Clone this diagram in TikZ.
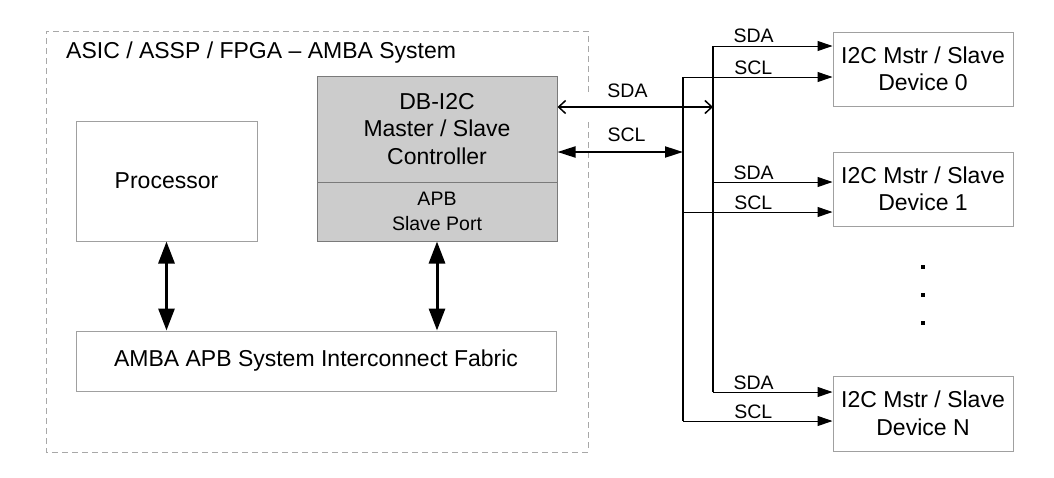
\documentclass[tikz,border=0pt]{standalone}
\usepackage{fontspec}
\setmainfont{Liberation Sans}
\usetikzlibrary{arrows.meta,calc}
\definecolor{boxline}{HTML}{A0A0A0}
\definecolor{darkline}{HTML}{7A7A7A}
\definecolor{grayfill}{HTML}{CCCCCC}
\definecolor{dashcol}{HTML}{A8A8A8}
\begin{document}
\begin{tikzpicture}[x=1pt,y=-1pt,
  mainfont/.style={font=\fontsize{23}{27.5}\selectfont},
  smallfont/.style={font=\fontsize{19.5}{25}\selectfont},
  box/.style={draw=boxline, line width=1pt, fill=white, inner sep=0pt, align=center},
  graybox/.style={draw=darkline, line width=1pt, fill=grayfill, inner sep=0pt, align=center},
  sysborder/.style={draw=dashcol, line width=0.9pt, dash pattern=on 6pt off 4pt},
  bigarrow/.style={line width=3pt, {Triangle[length=22pt,width=16pt]}-{Triangle[length=22pt,width=16pt]}},
  sdaarrow/.style={line width=1.5pt, {Straight Barb[length=7pt,width=13pt]}-{Straight Barb[length=7pt,width=13pt]}},
  sclarrow/.style={line width=2pt, {Triangle[length=18pt,width=11pt]}-{Triangle[length=18pt,width=11pt]}},
  bus/.style={line width=1.5pt},
  devarrow/.style={line width=1pt, -{Triangle[length=15pt,width=10pt]}},
  siglabel/.style={smallfont, above, inner sep=2pt},
  dotmark/.style={fill=black, inner sep=0pt, minimum size=3.5pt, rectangle}
]
\useasboundingbox (0,0) rectangle (1054,477);

% system boundary
\draw[sysborder] (588,92) -- (588,31) -- (46,31) -- (46,452) -- (588,452) -- (588,120);
\node[mainfont, anchor=west, inner sep=0pt] (title) at (66,53) {ASIC / ASSP / FPGA – AMBA System};

% blocks
\node[box, mainfont, minimum width=181pt, minimum height=120pt] (proc) at (166.5,181) {Processor};
\node[graybox, mainfont, minimum width=240pt, minimum height=106pt] (dbctl) at (437,129) {DB-I2C\\Master / Slave\\Controller};
\node[graybox, smallfont, minimum width=240pt, minimum height=59pt] (dbport) at (437,211.5) {APB\\Slave Port};
\node[box, mainfont, minimum width=480pt, minimum height=60pt] (amba) at (316,361) {AMBA APB System Interconnect Fabric};

\node[box, mainfont, minimum width=180pt, minimum height=74pt] (dev0) at (923,69) {I2C Mstr / Slave\\Device 0};
\node[box, mainfont, minimum width=180pt, minimum height=74pt] (dev1) at (923,189) {I2C Mstr / Slave\\Device 1};
\node[box, mainfont, minimum width=180pt, minimum height=75pt] (devN) at (923,413.5) {I2C Mstr / Slave\\Device N};

\node[dotmark] (dota) at (923,267) {};
\node[dotmark] (dotb) at (923,295) {};
\node[dotmark] (dotc) at (923,323) {};

% internal bus arrows
\draw[bigarrow] (proc.south) -- (proc.south |- amba.north);
\draw[bigarrow] (dbport.south) -- (dbport.south |- amba.north);

% I2C bus
\coordinate (sdatap) at (713,107);
\coordinate (scltap) at (683,152);
\coordinate (sdatop) at (713,46);
\coordinate (sdabot) at (713,392);
\coordinate (scltop) at (683,77);
\coordinate (sclbot) at (683,421);
\coordinate (sdamid) at (713,182);
\coordinate (sclmid) at (683,212);

\draw[sdaarrow] (dbctl.east |- sdatap) -- (sdatap)
  node[pos=0.45, smallfont, above=8pt, inner sep=1pt] {SDA};
\draw[sclarrow] (dbctl.east |- scltap) -- (scltap)
  node[pos=0.55, smallfont, above=8pt, inner sep=1pt] {SCL};

\draw[bus] (sdatop) -- (sdabot);
\draw[bus] (scltop) -- (sclbot);

\draw[devarrow] (sdatop) -- (sdatop -| dev0.west) node[pos=0.34, siglabel, inner sep=3pt] {SDA};
\draw[devarrow] (scltop) -- (scltop -| dev0.west) node[pos=0.47, siglabel] {SCL};
\draw[devarrow] (sdamid) -- (sdamid -| dev1.west) node[pos=0.34, siglabel] {SDA};
\draw[devarrow] (sclmid) -- (sclmid -| dev1.west) node[pos=0.47, siglabel] {SCL};
\draw[devarrow] (sdabot) -- (sdabot -| devN.west) node[pos=0.34, siglabel] {SDA};
\draw[devarrow] (sclbot) -- (sclbot -| devN.west) node[pos=0.47, siglabel] {SCL};
\end{tikzpicture}
\end{document}
